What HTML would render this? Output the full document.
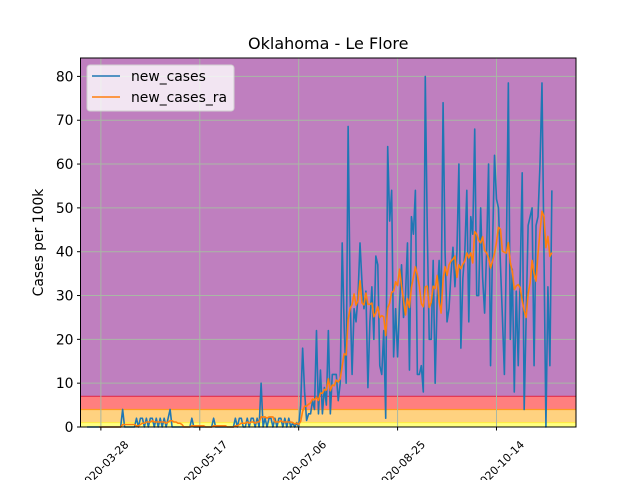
<!DOCTYPE html>
<html><head><meta charset="utf-8"><style>
body{margin:0;background:#fff;font-family:"DejaVu Sans","Liberation Sans",sans-serif}
svg{display:block}
</style></head><body>
<svg id="chart" width="640" height="480" viewBox="0 0 640 480" xmlns="http://www.w3.org/2000/svg" font-family="DejaVu Sans, Liberation Sans, sans-serif"></svg>
<script>
const startDate = "2020-03-21";
const newCases = [0,0,0,0,0,0,0,
0,0,0,0,0,0,0,0,0,0,0,4,0,0,0,0,0,0,2,0,2,2,0,2,0,2,2,0,2,0,2,0,2,0,2,4,0,0,
0,0,0,0,0,0,0,0,2,0,0,0,0,0,0,0,0,0,0,2,0,0,0,0,0,0,0,0,0,0,
2,0,2,2,0,0,2,0,2,2,0,2,0,10,0,2,0,2,2,0,2,0,2,2,0,2,0,2,0,1,0,1,0,
5,18,8,1.5,3,3,6,4,22,3,13,3,9,5,22,3,12,12,12,6,10,42,23,10,68.6,30,12,27,24,30,42,33,27,31,9,24,32,20,39,37,14,12,22,2,64,47,54,16,27,16,28,37,25,30,42,13,48,44,54,12,12,14,8,80,45,20,20,38,10,29,38,27,74,40,24,27,35,41,32,40,60,18,34,40,54,24,48,44,68,30,30,50,34,26,40,60,14,41,62,52,50,37,25,12,40,78.5,20,36,8,31,14,35,58,4,25,46,48,50,14,46,48,60,78.5,40,0,32,14,54];
const yTicks = [0,10,20,30,40,50,60,70,80];
const xTickLabels = ["2020-03-28","2020-05-17","2020-07-06","2020-08-25","2020-10-14"];
const bands = [[0,1,"#ffff80"],[1,4,"#ffd280"],[4,7,"#ff7f7f"],[7,84.2,"#bf7fbf"]];

const NS="http://www.w3.org/2000/svg";
const svg=document.getElementById('chart');
const L=80.5,R=576,T=58,B=427;
const day0=Date.parse("2020-03-28");
const dmin=-10.3,dmax=240.2,ymin=0,ymax=84.2;
function dayOf(s){return (Date.parse(s)-day0)/86400000;}
function sx(d){return L+(d-dmin)/(dmax-dmin)*(R-L);}
function sy(v){return B-(v-ymin)/(ymax-ymin)*(B-T);}
function el(tag,attrs,parent){const e=document.createElementNS(NS,tag);for(const k in attrs)e.setAttribute(k,attrs[k]);(parent||svg).appendChild(e);return e;}
const d0=dayOf(startDate);
const dates=newCases.map((_,i)=>d0+i);

const bg=el('rect',{x:L,y:T,width:R-L,height:B-T,fill:'#bf7fbf'});


bands.forEach((b,i)=>{
  const r=el('rect',{x:L,y:sy(b[1]),width:R-L,height:sy(b[0])-sy(b[1]),fill:b[2]});
  
  
});
el('line',{x1:L,x2:R,y1:sy(7),y2:sy(7),stroke:'#e03050','stroke-width':1.2});
el('line',{x1:L,x2:R,y1:sy(4),y2:sy(4),stroke:'#ff9a20','stroke-width':1.2});
el('line',{x1:L,x2:R,y1:sy(1),y2:sy(1),stroke:'#ffee40','stroke-width':1});
yTicks.forEach(v=>{
  const g=el('line',{x1:L,x2:R,y1:sy(v),y2:sy(v),stroke:'#a8b8a4','stroke-width':1});
  
  
});
xTickLabels.forEach(s=>{
  const x=sx(dayOf(s));
  const g=el('line',{x1:x,x2:x,y1:T,y2:B,stroke:'#a8b8a4','stroke-width':1});
  
  
});
const casesPath=newCases.map((v,i)=>(i?'L':'M')+sx(dates[i]).toFixed(2)+','+sy(v).toFixed(2)).join('');
const cl=el('path',{d:casesPath,fill:'none',stroke:'#1f77b4','stroke-width':1.6,'stroke-linejoin':'round'});


const ra=[];
for(let i=6;i<newCases.length;i++){let s=0;for(let k=i-6;k<=i;k++)s+=newCases[k];ra.push([dates[i],s/7]);}
const raPath=ra.map((p,i)=>(i?'L':'M')+sx(p[0]).toFixed(2)+','+sy(p[1]).toFixed(2)).join('');
const rl=el('path',{d:raPath,fill:'none',stroke:'#ff7f0e','stroke-width':1.6,'stroke-linejoin':'round'});


const fr=el('rect',{x:L,y:T,width:R-L,height:B-T,fill:'none',stroke:'#000','stroke-width':1});


yTicks.forEach(v=>{
  el('line',{x1:L-3.5,x2:L,y1:sy(v),y2:sy(v),stroke:'#000'});
  const t=el('text',{x:L-7,y:sy(v)+5,'text-anchor':'end','font-size':13.9,fill:'#000'});
  t.textContent=v;
  
  
});
xTickLabels.forEach(s=>{
  const x=sx(dayOf(s));
  el('line',{x1:x,x2:x,y1:B,y2:B+3.5,stroke:'#000'});
  const cx=x+3, cy=B+38;
  const t=el('text',{x:cx,y:cy+4,'text-anchor':'middle','font-size':11,fill:'#000',transform:`rotate(-45 ${cx} ${cy})`});
  t.textContent=s;
  
  
});
const title=el('text',{x:(L+R)/2,y:49,'text-anchor':'middle','font-size':16,fill:'#000'});
title.textContent='Oklahoma - Le Flore';


const yl=el('text',{x:43,y:(T+B)/2,'text-anchor':'middle','font-size':13.9,fill:'#000',transform:`rotate(-90 43 ${(T+B)/2})`});
yl.textContent='Cases per 100k';


const lg=el('g',{});


el('rect',{x:87,y:65,width:147,height:46,rx:3,fill:'#ffffff','fill-opacity':0.8,stroke:'#d0d0d0'},lg);
[['new_cases','#1f77b4',76],['new_cases_ra','#ff7f0e',97]].forEach(e=>{
  const ln=el('line',{x1:92,x2:120,y1:e[2],y2:e[2],stroke:e[1],'stroke-width':1.6},lg);
  
  
  const t=el('text',{x:131,y:e[2]+5,'font-size':13.9,fill:'#000'},lg);
  t.textContent=e[0];
  
  
});
</script>
</body></html>
